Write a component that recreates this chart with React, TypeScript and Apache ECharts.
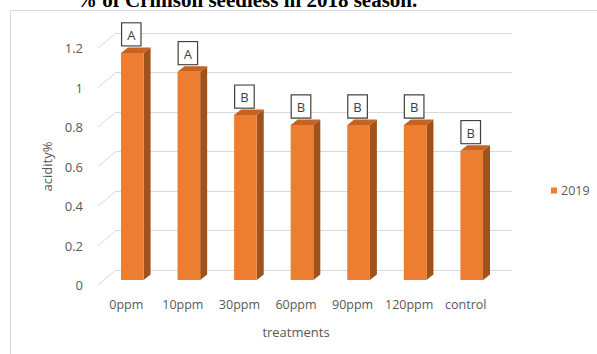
import React, { useEffect, useRef } from "react";
import * as echarts from "echarts";

const categories = ["0ppm", "10ppm", "30ppm", "60ppm", "90ppm", "120ppm", "control"];
const acidity2019 = [1.15, 1.055, 0.835, 0.785, 0.785, 0.785, 0.655];
const letters = ["A", "A", "B", "B", "B", "B", "B"];
const yTicks = [0, 0.2, 0.4, 0.6, 0.8, 1.0, 1.2];
const seriesName = "2019";
const titleText = "% of Crimson seedless in 2018 season.";

const FONT = "'Open Sans', sans-serif";
const TXT = "#595959";
const GRID = "#d9d9d9";

export default function App() {
  const ref = useRef<HTMLDivElement>(null);
  useEffect(() => {
    document.body.style.margin = "0";
    const chart = echarts.init(ref.current!, null, { renderer: "svg" });
    const H = 237;
    const W = 396;
    const yAxisBase = (gridIndex: number, show: boolean) => ({
      type: "value",
      gridIndex,
      min: 0,
      max: 1.2,
      interval: 0.2,
      axisLine: { show: false },
      axisTick: { show: false },
      axisLabel: { show: false },
      splitLine: { show },
    });
    const xAxisBase = (gridIndex: number) => ({
      type: "category",
      gridIndex,
      data: categories,
      axisLine: { show: false },
      axisTick: { show: false },
      axisLabel: { show: false },
      splitLine: { show: false },
    });
    const option: any = {
      animation: false,
      backgroundColor: "#ffffff",
      graphic: [
        {
          type: "rect",
          z: -10,
          shape: { x: 10.5, y: 10.5, width: 620, height: 380 },
          style: { fill: "none", stroke: GRID, lineWidth: 1 },
          silent: true,
        },
        {
          type: "text",
          x: 76,
          y: 10.5,
          style: {
            text: titleText,
            font: "bold 21px 'Liberation Serif', serif",
            fill: "#000000",
            verticalAlign: "bottom",
            align: "left",
          },
        },
      ],
      legend: {
        data: [{ name: seriesName, icon: "rect", itemStyle: { color: "#ED7D31" } }],
        left: 546,
        top: 179,
        itemWidth: 6,
        itemHeight: 6,
        itemGap: 4,
        textStyle: { color: TXT, fontFamily: FONT, fontSize: 12.5, padding: [0, 0, 0, -1] },
      },
      grid: [
        { left: 116, top: 270 - H, width: W, height: H },
        { left: 104, top: 280 - H, width: W, height: H },
        { left: 98, top: 285 - H, width: W, height: H },
      ],
      xAxis: [
        xAxisBase(0),
        xAxisBase(1),
        {
          ...xAxisBase(2),
          axisLabel: { show: true, color: TXT, fontFamily: FONT, fontSize: 12.5, margin: 13, interval: 0 },
          name: "treatments",
          nameLocation: "middle",
          nameGap: 40,
          nameTextStyle: { color: TXT, fontFamily: FONT, fontSize: 13 },
        },
      ],
      yAxis: [
        { ...yAxisBase(0, true), splitLine: { show: true, lineStyle: { color: GRID, width: 1 } } },
        yAxisBase(1, false),
        {
          ...yAxisBase(2, false),
          axisLabel: { show: true, color: TXT, fontFamily: FONT, fontSize: 13, margin: 15 },
          name: "acidity%",
          nameLocation: "middle",
          nameRotate: 90,
          nameGap: 35,
          nameTextStyle: { color: TXT, fontFamily: FONT, fontSize: 13 },
        },
      ],
      series: [
        {
          type: "custom",
          name: "walls",
          xAxisIndex: 2,
          yAxisIndex: 2,
          silent: true,
          z: 1,
          data: yTicks.map((t) => [0, t]),
          renderItem: (params: any, api: any) => {
            const v = api.value(1);
            const p = api.coord([0, v]);
            const half = api.size([1, 0])[0] / 2;
            const x0 = p[0] - half;
            return {
              type: "line",
              shape: { x1: x0, y1: p[1], x2: x0 + 18, y2: p[1] - 15 },
              style: { stroke: GRID, lineWidth: 1 },
            };
          },
        },
        {
          type: "custom",
          name: seriesName,
          xAxisIndex: 1,
          yAxisIndex: 1,
          z: 3,
          itemStyle: { color: "#ED7D31" },
          data: acidity2019.map((v, i) => [i, v]),
          renderItem: (params: any, api: any) => {
            const i = api.value(0);
            const v = api.value(1);
            const top = api.coord([i, v]);
            const bot = api.coord([i, 0]);
            const w = api.size([1, 0])[0] * 0.4;
            const xl = top[0] - w / 2;
            const xr = top[0] + w / 2;
            const dx = 7;
            const dy = 5.5;
            const yt = top[1];
            const yb = bot[1];
            return {
              type: "group",
              children: [
                {
                  type: "polygon",
                  shape: { points: [[xr, yt], [xr + dx, yt - dy], [xr + dx, yb - dy], [xr, yb]] },
                  style: { fill: "#A0521C" },
                },
                {
                  type: "polygon",
                  shape: { points: [[xl, yt], [xl + dx, yt - dy], [xr + dx, yt - dy], [xr, yt]] },
                  style: { fill: "#C8621F" },
                },
                {
                  type: "rect",
                  shape: { x: xl, y: yt, width: w, height: yb - yt },
                  style: { fill: "#ED7D31" },
                },
                {
                  type: "text",
                  x: top[0] - 1,
                  y: yt - dy - 2,
                  style: {
                    text: letters[i],
                    fill: "#404040",
                    font: "13px 'Open Sans', sans-serif",
                    align: "center",
                    verticalAlign: "bottom",
                    backgroundColor: "#ffffff",
                    borderColor: "#404040",
                    borderWidth: 1.2,
                    padding: [4, 5, 3, 5],
                    lineHeight: 15,
                  },
                },
              ],
            };
          },
        },
      ],
    };
    chart.setOption(option);
    return () => chart.dispose();
  }, []);
  return <div ref={ref} style={{ width: 597, height: 354 }} />;
}
